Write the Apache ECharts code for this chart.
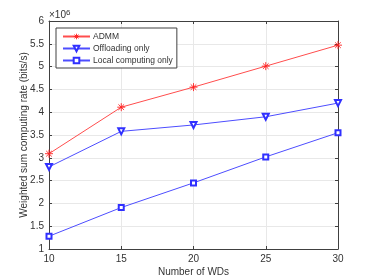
<!DOCTYPE html>
<html><head><meta charset="utf-8">
<script src="https://cdn.jsdelivr.net/npm/echarts@6/dist/echarts.min.js"></script>
<style>html,body{margin:0;padding:0;background:#fff}#c{width:374px;height:280px}</style>
</head><body><div id="c"></div>
<script>
var xValues = [10, 15, 20, 25, 30];
var admm = [3.09, 4.11, 4.55, 5.01, 5.47];
var offloading = [2.80, 3.58, 3.72, 3.90, 4.20];
var localOnly = [1.28, 1.91, 2.45, 3.02, 3.55];
var seriesNames = ['ADMM', 'Offloading only', 'Local computing only'];

function pairs(v){ return xValues.map(function(x,i){return [x, v[i]];}); }
var star = 'path://M5,0 L5,10 M0,5 L10,5 M1.5,1.5 L8.5,8.5 M8.5,1.5 L1.5,8.5';
var txt = '#333333';
var font = 'Liberation Sans';
var chart = echarts.init(document.getElementById('c'));
var axisCommon = {
  axisLine:{show:true,onZero:false,lineStyle:{color:'#404040',width:1}},
  axisTick:{show:true,inside:true,length:3,lineStyle:{color:'#404040'}},
  splitLine:{show:false}
};
chart.setOption({
  animation:false,
  textStyle:{fontFamily:font},
  grid:{left:49,right:36,top:21,bottom:31,outerBoundsMode:'none',containLabel:false},
  xAxis:[
    Object.assign({type:'value',min:10,max:30,interval:5,position:'bottom',
      name:'Number of WDs',nameLocation:'middle',nameGap:18,nameMoveOverlap:false,
      nameTextStyle:{color:txt,fontSize:10,fontFamily:font},
      axisLabel:{color:txt,fontSize:10,margin:5,fontFamily:font},
      splitLine:{show:true,lineStyle:{color:'#e8e8e8'}}}, {axisLine:axisCommon.axisLine,axisTick:axisCommon.axisTick}),
    Object.assign({type:'value',min:10,max:30,interval:5,position:'top',axisLabel:{show:false}}, axisCommon)
  ],
  yAxis:[
    Object.assign({type:'value',min:1,max:6,interval:0.5,position:'left',
      name:'Weighted sum computing rate (bits/s)',nameLocation:'middle',nameGap:20,nameMoveOverlap:false,
      nameTextStyle:{color:txt,fontSize:10,fontFamily:font},
      axisLabel:{color:txt,fontSize:10,margin:5,fontFamily:font},
      splitLine:{show:true,lineStyle:{color:'#e8e8e8'}}}, {axisLine:axisCommon.axisLine,axisTick:axisCommon.axisTick}),
    Object.assign({type:'value',min:1,max:6,interval:0.5,position:'right',axisLabel:{show:false}}, axisCommon)
  ],
  legend:{
    orient:'vertical',left:56,top:28,itemWidth:27,itemHeight:7,itemGap:3,
    padding:[4,4,3,6],borderColor:'#404040',borderWidth:1,backgroundColor:'#fff',
    textStyle:{color:txt,fontSize:8.5,fontFamily:font,padding:[0,0,0,-2]},
    data:[
      {name:seriesNames[0],itemStyle:{borderWidth:0.9,borderColor:'#ff2020',color:'#ff2020'}},
      {name:seriesNames[1]},
      {name:seriesNames[2]}
    ]
  },
  graphic:[{type:'text',left:49,top:9,style:{text:'×10{s|6}',rich:{s:{fontSize:8,verticalAlign:'top',padding:[0,0,5,0],fill:txt}},fontSize:10,fill:txt,fontFamily:font}}],
  series:[
    {name:seriesNames[0],type:'line',data:pairs(admm),symbol:star,symbolSize:8,
      lineStyle:{color:'#ff4d4d',width:1},itemStyle:{color:'#ff2020',borderColor:'#ff2020',borderWidth:0.9}},
    {name:seriesNames[1],type:'line',data:pairs(offloading),symbol:'emptyTriangle',symbolRotate:180,symbolSize:6,
      lineStyle:{color:'#4d4dff',width:1},itemStyle:{color:'#3030ff',borderWidth:1}},
    {name:seriesNames[2],type:'line',data:pairs(localOnly),symbol:'emptyRect',symbolSize:5,
      lineStyle:{color:'#4d4dff',width:1},itemStyle:{color:'#3030ff',borderWidth:1}}
  ]
});
</script></body></html>
